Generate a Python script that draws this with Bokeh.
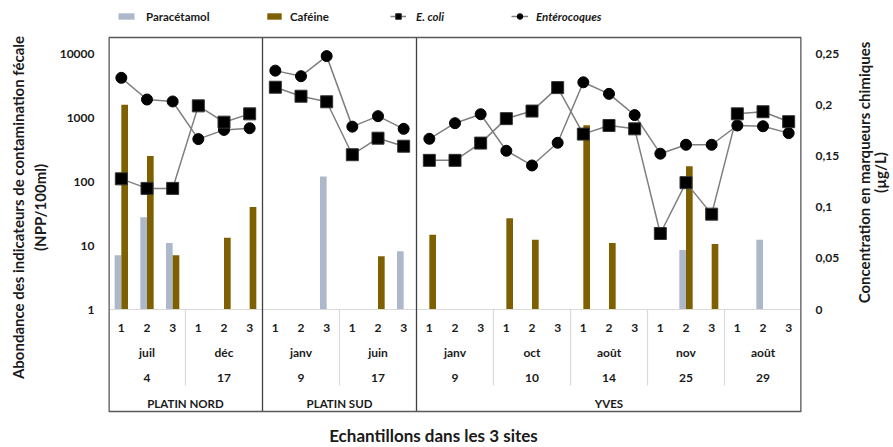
import math
from bokeh.plotting import figure
from bokeh.layouts import row
from bokeh.models import (Range1d, LinearAxis, LinearScale, FixedTicker, NumeralTickFormatter,
                          CustomJSTickFormatter, ColumnDataSource, Legend, LegendItem)
from bokeh.core.properties import value
from bokeh.transform import dodge
from bokeh.embed import file_html
from bokeh.resources import INLINE

# ---------------- data ----------------
sites = ["PLATIN NORD", "PLATIN SUD", "YVES"]
groups_per_site = [2, 2, 5]
months = ["juil", "déc", "janv", "juin", "janv", "oct", "août", "nov", "août"]
days = ["4", "17", "9", "17", "9", "10", "14", "25", "29"]
replicates = ["1", "2", "3"]

# chemical markers (µg/L), one value per sample (27 samples)
paracetamol = [0.053, 0.090, 0.065, 0, 0, 0,
               0, 0, 0.130, 0, 0, 0.057,
               0, 0, 0, 0, 0, 0, 0, 0, 0, 0, 0.058, 0, 0, 0.068, 0]
cafeine = [0.200, 0.150, 0.053, 0, 0.070, 0.100,
           0, 0, 0, 0, 0.052, 0,
           0.073, 0, 0, 0.089, 0.068, 0, 0.180, 0.065, 0, 0, 0.140, 0.064, 0, 0, 0]

# fecal indicators (NPP/100ml)
ecoli = [110, 78, 78, 1520, 845, 1140,
         2970, 2150, 1760, 262, 475, 356,
         214, 214, 398, 960, 1260, 2930, 550, 750, 665, 15.4, 96, 30.9, 1140, 1230, 860]
entero = [4170, 1910, 1780, 460, 640, 680,
          5400, 4420, 9100, 720, 1050, 665,
          465, 815, 1125, 302, 178, 403, 3550, 2340, 1090, 272, 375, 375, 750, 730, 570]

left_ticks = [1, 10, 100, 1000, 10000]
right_ticks = [0, 0.05, 0.1, 0.15, 0.2, 0.25]

left_title = ["Abondance des indicateurs de contamination fécale", "(NPP/100ml)"]
right_title = ["Concentration en marqueurs chimiques", "(µg/L)"]
x_title = "Echantillons dans les 3 sites"

# ---------------- layout constants (page px) ----------------
FONT = "Lato"
TXT = "#1a1a1a"
H = 447
LEFT_W = 50            # left strip holding the left title
RIGHT_X0 = 850         # right strip (right title) starts here
PAGE_W = 893
FR_L, FR_R = 108, 801  # plotting frame (page px); frame spans full height
BOX_T, BOX_B = 37, 411 # drawn chart box
BASE = 309             # pixel row of the baseline (1 / 0)
PX_PER_DECADE = 64
PX_PER_UNIT = 1024     # right axis px per µg/L

n_rep = len(replicates)
n_groups = len(months)
n = n_groups * n_rep
px_per_sample = (FR_R - FR_L) / n

def cy(py):
    """page pixel row -> right-axis (µg/L) coordinate"""
    return (BASE - py) / PX_PER_UNIT

def cx(px):
    return (px - FR_L) / px_per_sample

p = figure(width=RIGHT_X0 - LEFT_W, height=H, x_range=Range1d(0, n),
           y_range=Range1d(10 ** ((BASE - H) / PX_PER_DECADE), 10 ** (BASE / PX_PER_DECADE)),
           y_axis_type="log", x_axis_location=None, output_backend="svg", toolbar_location=None,
           min_border_left=FR_L - LEFT_W, min_border_right=RIGHT_X0 - FR_R,
           min_border_top=0, min_border_bottom=0)
p.extra_y_ranges = {"conc": Range1d(cy(H), cy(0))}
p.extra_y_scales = {"conc": LinearScale()}
p.grid.visible = False
p.outline_line_color = None
p.background_fill_color = "white"
p.border_fill_color = "white"

def style_axis(ax):
    ax.axis_line_color = None
    ax.major_tick_line_color = None
    ax.minor_tick_line_color = None
    ax.major_tick_out = 0
    ax.major_label_standoff = 14
    ax.major_label_text_font = FONT
    ax.major_label_text_font_style = "bold"
    ax.major_label_text_font_size = "12px"
    ax.major_label_text_color = TXT

ya = p.yaxis[0]
ya.ticker = FixedTicker(ticks=left_ticks)
ya.formatter = NumeralTickFormatter(format="0")
style_axis(ya)

ra = LinearAxis(y_range_name="conc", ticker=FixedTicker(ticks=right_ticks),
                formatter=CustomJSTickFormatter(code="""
                    let s = tick.toFixed(2).replace(/0+$/, '').replace(/\\.$/, '');
                    return s.replace('.', ',');
                """))
style_axis(ra)
p.add_layout(ra, "right")

# ---------------- bars ----------------
xs = [i + 0.5 for i in range(n)]
src = ColumnDataSource(dict(x=xs, para=paracetamol, caf=cafeine))
bw = 0.26
r_para = p.vbar(x=dodge("x", -bw / 2, range=p.x_range), top="para", bottom=0, width=bw,
                source=src, y_range_name="conc", fill_color="#ADB9CA", line_color=None)
r_caf = p.vbar(x=dodge("x", bw / 2, range=p.x_range), top="caf", bottom=0, width=bw,
               source=src, y_range_name="conc", fill_color="#7F6000", line_color=None)

# ---------------- chart box, baseline and separators ----------------
site_bounds = []
acc = 0
for g in groups_per_site:
    acc += g
    site_bounds.append(acc * n_rep)
group_bounds = [(g + 1) * n_rep for g in range(n_groups - 1)]
light = [b for b in group_bounds if b not in site_bounds]

p.segment(x0=[0], x1=[n], y0=[0], y1=[0], y_range_name="conc",
          line_color="#D9D9D9", line_width=1.2)
p.segment(x0=light, x1=light, y0=[0] * len(light), y1=[cy(385)] * len(light),
          y_range_name="conc", line_color="#D9D9D9", line_width=1.2)
inner = site_bounds[:-1]
p.segment(x0=inner, x1=inner, y0=[cy(BOX_B)] * len(inner), y1=[cy(BOX_T)] * len(inner),
          y_range_name="conc", line_color="#404040", line_width=1.3)
box_col = "#595959"
p.segment(x0=[0, n], x1=[0, n], y0=[cy(BOX_B)] * 2, y1=[cy(BOX_T)] * 2,
          y_range_name="conc", line_color=box_col, line_width=2.6)
p.segment(x0=[0, 0], x1=[n, n], y0=[cy(BOX_T), cy(BOX_B)], y1=[cy(BOX_T), cy(BOX_B)],
          y_range_name="conc", line_color=box_col, line_width=1.3)

# ---------------- lines ----------------
line_col = "#7F7F7F"
start = 0
first = {}
for g in groups_per_site:
    end = start + g * n_rep
    seg = ColumnDataSource(dict(x=xs[start:end], e=ecoli[start:end], c=entero[start:end]))
    le = p.line("x", "e", source=seg, line_color=line_col, line_width=1.5)
    lc = p.line("x", "c", source=seg, line_color=line_col, line_width=1.5)
    first.setdefault("e", le)
    first.setdefault("c", lc)
    start = end
pts = ColumnDataSource(dict(x=xs, e=ecoli, c=entero))
sc_c = p.scatter("x", "c", source=pts, marker="circle", size=11, fill_color="black",
                 line_color="black")
sc_e = p.scatter("x", "e", source=pts, marker="square", size=12, fill_color="black",
                 line_color="#333333")

# ---------------- category labels ----------------
rep_t = replicates * n_groups
grp_x = [g * n_rep + n_rep / 2 for g in range(n_groups)]
site_x = []
acc = 0
for g in groups_per_site:
    site_x.append((acc + g / 2) * n_rep)
    acc += g

def rowtext(xv, py, tv, size="12px"):
    p.text(x=xv, y=[cy(py)] * len(xv), text=tv, y_range_name="conc",
           text_font=value(FONT), text_font_style="bold", text_font_size=size,
           text_color=TXT, text_align="center", text_baseline="middle")

rowtext(xs, 327, rep_t)
rowtext(grp_x, 352, months)
rowtext(grp_x, 377, days)
rowtext(site_x, 403, sites, "11.5px")
rowtext([cx(433)], 435, [x_title], "17px")

# ---------------- legends (inside the frame, above the chart box) ----------------
def add_legend(label, renderers, px, italic, gw, gh, standoff):
    lg = Legend(items=[LegendItem(label=label, renderers=renderers)],
                location=(px - FR_L, H - 16 - 7), orientation="horizontal",
                background_fill_alpha=0, border_line_color=None, padding=0, margin=0,
                glyph_width=gw, glyph_height=gh, label_height=14, label_standoff=standoff,
                label_text_font=FONT, label_text_font_size="11.5px",
                label_text_font_style="bold italic" if italic else "bold",
                label_text_color=TXT)
    p.add_layout(lg, "center")

add_legend("Paracétamol", [r_para], 116, False, 20, 8, 10)
add_legend("Caféine", [r_caf], 265, False, 18, 8, 7)
add_legend("E. coli", [first["e"], sc_e], 390, True, 16, 14, 10)
add_legend("Entérocoques", [first["c"], sc_c], 511, True, 17, 14, 8)

# ---------------- side strips with the rotated axis titles ----------------
def strip(x0, x1, lines_x, center_y, texts):
    f = figure(width=x1 - x0, height=H, x_range=Range1d(x0, x1), y_range=Range1d(H, 0),
               output_backend="svg", toolbar_location=None, x_axis_location=None,
               y_axis_location=None, min_border=0)
    f.outline_line_color = None
    f.grid.visible = False
    f.background_fill_color = "white"
    f.border_fill_color = "white"
    f.text(x=lines_x, y=[center_y] * len(texts), text=texts, angle=math.pi / 2,
           text_font=value(FONT), text_font_style="bold", text_font_size="15px",
           text_color=TXT, text_align="center", text_baseline="middle")
    return f

pl = strip(0, LEFT_W, [17, 39], 207, left_title)
pr = strip(RIGHT_X0, PAGE_W, [863, 879], 172, right_title)

layout = row(pl, p, pr)
open("out.html", "w").write(file_html(layout, INLINE))
